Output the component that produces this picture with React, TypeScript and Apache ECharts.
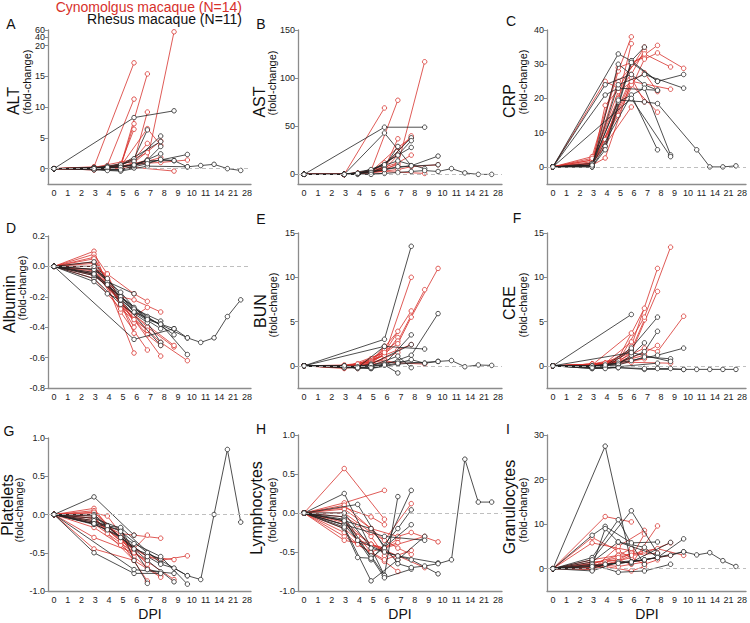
import React, { useEffect, useRef } from "react";
import * as echarts from "echarts";

// ---------- axis categories ----------
const DAY_LABELS = [0, 1, 2, 3, 4, 5, 6, 7, 8, 9, 10, 11, 14, 21, 28];
const LABEL_SPREAD = 0.968; // tick labels sit slightly wider apart than the sample positions

// ---------- sampling schedules (DPI) ----------
const CYNO_DAYS = [
  [0, 3, 6], [0, 3, 4, 6], [0, 3, 5, 6], [0, 3, 4, 5, 6], [0, 3, 5, 7], [0, 3, 4, 6, 7], [0, 3, 5, 7, 8],
  [0, 3, 6, 7], [0, 3, 4, 5, 7], [0, 3, 5, 6, 8], [0, 3, 4, 6, 8], [0, 3, 5, 7, 9], [0, 3, 6, 9], [0, 3, 5, 7, 8, 10],
];
const RHESUS_DAYS = [
  [0, 3, 4, 6], [0, 3, 5, 6, 7], [0, 3, 4, 6, 8], [0, 3, 5, 7, 8], [0, 3, 4, 5, 8], [0, 3, 6, 8],
  [0, 3, 5, 7, 9], [0, 6, 9], [0, 3, 4, 6, 8, 10], [0, 3, 5, 7, 10], [0, 3, 5, 7, 8, 9, 10, 11, 14, 21, 28],
];

type V = (number | null)[];

// ---------- A: ALT ----------
const ALT_CYNO: V[] = [
  [0, 0.3, 17.2], [0, 0.1, 0.5, 11.3], [0, -0.2, 0.3, 7.3], [0, 0, 0.2, 0.8, 6.4], [0, 0.2, 0.5, 15.4],
  [0, 0.1, 0.3, 1.2, 9.2], [0, 0, 0.4, 6.5, 3.8], [0, 0.2, 1.5, 4.1], [0, -0.1, 0.2, 0.6, 2.6],
  [0, 0.1, 0.3, 1.0, 4.5], [0, 0, 0.2, 0.6, 1.8], [0, 0.1, 0.2, 1.4, 55], [0, -0.2, 0.2, -0.4], [0, 0, 0.3, 0.9, 1.0, 1.4],
];
const ALT_RHESUS: V[] = [
  [0, 0, -0.3, 0.1], [0, 0.1, 0.5, 1.6, 6.3], [0, 0.2, 0.4, 1.2, 5.3], [0, 0, -0.3, 1.4, 3.6], [0, 0.1, 0.3, 0.6, 4.4],
  [0, -0.1, 0.5, 2.4], [0, 0, 0.2, 1.3, 1.3], [0, 8.3, 9.4], [0, 0.1, 0.2, 0.6, 1.4, 2.3], [0, -0.2, -0.4, 0.4, 0.3],
  [0, 0, -0.2, 0.8, 1.5, 1.3, 0.3, 0.5, 0.7, 0, -0.3],
];
const ALT_TICKS = [0, 5, 10, 15, 20, 40, 60];

// ---------- B: AST ----------
const AST_CYNO: V[] = [
  [0, 0, 69], [0, 0, 1, 8], [0, 0, 3, 12], [0, 0, 1, 3, 6], [0, 0, 4, 77], [0, 0, 1, 6, 37], [0, 0, 3, 28, 38],
  [0, 0, 5, 20], [0, 0, 1, 3, 12], [0, 0, 2, 8, 40], [0, 0, 1, 4, 20], [0, 0, 2, 10, 117], [0, 0, 3, 1], [0, 0, 2, 5, 8, 10],
];
const AST_RHESUS: V[] = [
  [0, 0, 0, 1], [0, 0, 2, 8, 29], [0, 0, 1, 10, 38], [0, 0, 3, 20, 35], [0, 0, 1, 4, 28], [0, 0, 43, 9],
  [0, 0, 5, 14, 6], [0, 49, 49], [0, 0, 1, 5, 9, 19], [0, 0, 2, 8, 10], [0, 0, 0, 2, 3, 4, 3, 6, 1.5, 0, 0],
];
const AST_TICKS = [0, 50, 100, 150];

// ---------- C: CRP ----------
const CRP_CYNO: V[] = [
  [0, 1, 17.5], [0, 0.5, 2.6, 25], [0, 2, 28, 38], [0, 1, 6, 20, 36], [0, 3, 29, 32], [0, 0.5, 18, 27, 34],
  [0, 1.5, 22, 27.5, 22], [0, 0.3, 26, 19], [0, null, 25, 23, 35], [0, 2, 20, 30, 35.5], [0, 1, 8, 24, 16],
  [0, 1, 25, 33, 29.2], [0, 0.5, 25, 22.7], [0, 2.5, 15, 31.5, 33.3, 28.8],
];
const CRP_RHESUS: V[] = [
  [0, null, 24, 27], [0, null, 33, 31, 35], [0, 0, 6, 31, 25], [0, 0, 30, 24, 22.4], [0, null, 21, 23, 22.4],
  [0, 0.5, 21, 5], [0, 1, 19, 23, 3.5], [0, 20, 3], [0, 0, 5, 30.5, 25, 27], [0, 0.5, 24, 27, 23],
  [0, 0.5, 19.5, 19, 18.5, null, null, 5, 0, 0, 0.3],
];
const CRP_TICKS = [0, 10, 20, 30, 40];

// ---------- D: Albumin ----------
const ALB_CYNO: V[] = [
  [0, 0.1, -0.57], [0, 0.08, -0.05, -0.44], [0, 0.06, -0.25, -0.4], [0, 0.03, -0.08, -0.22, -0.37], [0, 0, -0.3, -0.55],
  [0, -0.02, -0.05, -0.18, -0.23], [0, 0.02, -0.25, -0.45, -0.52], [0, -0.04, -0.33, -0.27], [0, 0.05, -0.1, -0.26, -0.42],
  [0, -0.06, -0.2, -0.22, -0.3], [0, -0.03, -0.12, -0.35, -0.59], [0, 0, -0.24, -0.4, -0.53], [0, -0.05, -0.32, -0.52],
  [0, -0.08, -0.28, -0.42, -0.5, -0.62],
];
const ALB_RHESUS: V[] = [
  [0, 0.03, -0.1, -0.18], [0, -0.02, -0.17, -0.27, -0.35], [0, -0.05, -0.12, -0.3, -0.41], [0, -0.08, -0.25, -0.37, -0.5],
  [0, -0.1, -0.18, -0.22, -0.52], [0, -0.04, -0.28, -0.36], [0, -0.06, -0.2, -0.33, -0.45], [0, -0.48, -0.41],
  [0, -0.02, -0.08, -0.3, -0.38, -0.58], [0, 0, -0.2, -0.34, -0.47],
  [0, -0.05, -0.22, -0.35, -0.38, -0.41, -0.47, -0.5, -0.47, -0.33, -0.22],
];
const ALB_TICKS = [-0.8, -0.6, -0.4, -0.2, 0, 0.2];

// ---------- E: BUN ----------
const BUN_CYNO: V[] = [
  [0, -0.2, 1.5], [0, 0, -0.3, 0.8], [0, -0.1, 0.5, 2.2], [0, 0, 0.1, 0.8, 1.8], [0, -0.2, 0.3, 3.9],
  [0, 0, 0.2, 1.2, 3.2], [0, -0.1, 0.6, 1.8, 2.4], [0, 0.1, 0.6, 0.3], [0, -0.3, -0.1, 0.3, 1.5],
  [0, 0, 0.5, 1.2, 10], [0, -0.1, 0.2, 1.5, 6.2], [0, 0, 0.4, 2.8, 8.6], [0, -0.2, 0.4, 0.2], [0, -0.1, 0.3, 2.5, 5.5, 11],
];
const BUN_RHESUS: V[] = [
  [0, -0.1, -0.2, 2.2], [0, -0.1, -0.3, 0.1, -0.8], [0, 0, -0.3, 0.2, 3.5], [0, -0.1, 0, 1.1, -0.2],
  [0, -0.2, -0.1, 0.2, 2.4], [0, null, 3.0, 13.5], [0, -0.1, 0.1, 0.5, 0.3], [0, 2.2, 1.9],
  [0, 0, -0.2, 0.1, 1.2, 5.9], [0, -0.2, -0.3, 0.2, 0.5], [0, 0, -0.2, 0.3, 0.7, 0.3, 0.5, 0.6, -0.1, 0.1, 0.05],
];
const BUN_TICKS = [0, 5, 10, 15];

// ---------- F: CRE ----------
const CRE_CYNO: V[] = [
  [0, 0.1, 3.7], [0, 0.2, 0.3, 2.7], [0, 0, 0.5, 1.5], [0, 0.1, 0.2, 0.5, 1.0], [0, 0.2, 0.8, 6.5],
  [0, 0.1, 0.3, 1.8, 5.2], [0, 0, 0.4, 1.5, 2.3], [0, 0.2, 0.5, 0.8], [0, 0.1, 0.2, 0.4, 1.2],
  [0, 0.1, 0.6, 2.2, 11], [0, 0.2, 0.3, 1.5, 8.4], [0, 0.1, 0.5, 5.5, 13.4], [0, 0, 0.4, 0.3], [0, 0.2, 0.6, 2.0, 1.6, 5.6],
];
const CRE_RHESUS: V[] = [
  [0, -0.3, -0.2, 1.8], [0, 0, 0.2, 1.2, 2.6], [0, -0.1, 0, 2.0, 5.5], [0, 0, 0.3, 1.6, 3.9], [0, -0.2, -0.3, -0.1, 0.3],
  [0, null, 5.8, null], [0, -0.1, 0.1, 1.0, 0.8], [0, 1.5, 0.5], [0, 0, 0.1, 0.6, 1.2, 2.0], [0, -0.3, -0.2, -0.4, -0.4],
  [0, -0.2, -0.2, -0.3, -0.3, -0.3, -0.4, -0.4, -0.4, -0.4, -0.4],
];
const CRE_TICKS = [0, 5, 10, 15];

// ---------- G: Platelets ----------
const PLT_CYNO: V[] = [
  [0, -0.45, -0.6], [0, 0.08, -0.15, -0.5], [0, 0.05, -0.3, -0.55], [0, 0.02, -0.02, -0.25, -0.45], [0, -0.05, -0.35, -0.87],
  [0, -0.1, -0.2, -0.45, -0.27], [0, -0.17, -0.4, -0.7, -0.8], [0, -0.3, -0.5, -0.6], [0, 0, -0.15, -0.3, -0.65],
  [0, -0.08, -0.25, -0.27, -0.31], [0, -0.02, -0.25, -0.6, -0.82], [0, 0.03, -0.3, -0.55, -0.59], [0, -0.12, -0.5, -0.85],
  [0, -0.05, -0.35, -0.55, -0.6, -0.54],
];
const PLT_RHESUS: V[] = [
  [0, 0.23, null, -0.27], [0, -0.05, -0.18, -0.6, -0.9], [0, -0.1, -0.15, -0.45, -0.58], [0, -0.12, -0.2, -0.72, -0.75],
  [0, 0, -0.15, -0.17, -0.64], [0, -0.5, -0.77, -0.77], [0, -0.02, -0.3, -0.6, -0.88], [0, -0.72, -0.77],
  [0, -0.13, -0.2, -0.38, -0.55, -0.91], [0, -0.08, -0.22, -0.5, -0.8],
  [0, -0.12, -0.3, -0.55, -0.65, -0.7, -0.8, -0.85, 0, 0.85, -0.1],
];
const PLT_TICKS = [-1, -0.5, 0, 0.5, 1];

// ---------- H: Lymphocytes ----------
const LYM_CYNO: V[] = [
  [0, 0.57, -0.08], [0, 0.13, null, 0.29], [0, 0.07, -0.05, -0.15], [0, -0.05, -0.15, -0.3, -0.55], [0, -0.1, -0.4, -0.6],
  [0, -0.2, -0.35, -0.45, -0.33], [0, 0, -0.25, -0.45, -0.53], [0, -0.3, -0.62, -0.75], [0, -0.12, -0.3, -0.5, -0.38],
  [0, 0.05, -0.2, -0.35, 0.12], [0, -0.25, -0.4, -0.6, -0.48], [0, -0.15, -0.4, -0.55, -0.7], [0, -0.35, -0.45, -0.3],
  [0, 0.1, -0.2, -0.3, -0.25, -0.37],
];
const LYM_RHESUS: V[] = [
  [0, 0.25, null, -0.8], [0, -0.15, -0.55, -0.8, 0.21], [0, null, 0.11, -0.45, 0.29], [0, -0.1, -0.6, -0.2, 0.04],
  [0, -0.2, -0.57, -0.58, -0.15], [0, -0.05, -0.83, -0.72], [0, -0.18, -0.87, -0.6, -0.3], [0, -0.3, -0.35],
  [0, -0.08, -0.35, -0.5, -0.6, -0.78], [0, 0, -0.45, -0.55, -0.64],
  [0, -0.1, -0.2, -0.65, -0.7, -0.68, -0.65, -0.6, 0.69, 0.14, 0.14],
];
const LYM_TICKS = [-1, -0.5, 0, 0.5, 1];

// ---------- I: Granulocytes ----------
const GRA_CYNO: V[] = [
  [0, 5.8, 4], [0, null, 11.7, 10.5], [0, 1, 3, 4.5], [0, 0.5, 1.5, 2, 3.5], [0, -0.2, 5, 8.6], [0, 0.3, 1, 2.5, 7.8],
  [0, 7, 4, 1, 2], [0, 1, -0.5, 0.5], [0, 0.2, 0.8, 0.5, 1.5], [0, 1.5, 2, 1, 9.6], [0, 0, 0.5, 3, 3.5],
  [0, 2, 3, 3.5, 5.8], [0, 0.8, 1.5, 3], [0, 1.2, 2.5, 4, 4.5, 3],
];
const GRA_RHESUS: V[] = [
  [0, null, 27.5, 1.2], [0, 2.5, 11, 5.5, 1], [0, 7.5, 9.5, 5.8, 6], [0, 1.5, 6, 4.8, 2.5], [0, 0.5, 9, 6, 3],
  [0, 2, 13, 3.5], [0, 1, -0.8, -0.5, 1.0], [0, 1.5, 5.9], [0, 0, 1, 1.5, 2.5, 6.7], [0, -0.5, 1.5, 2, 3.8],
  [0, 0.5, 1.2, 2, 2.5, 3, 3.8, 3.1, 3.6, 1.8, 0.5],
];
const GRA_TICKS = [0, 10, 20, 30];

// broken y scale of panel A (0-20 linear, 20-60 compressed)
const brk = (v: number) => (v <= 20 ? v : v <= 40 ? 20 + (v - 20) * 0.068 : 21.36 + (v - 40) * 0.059);
const ident = (v: number) => v;

const PANELS = [
  { letter: "A", name: "ALT", cyno: ALT_CYNO, rhesus: ALT_RHESUS, ticks: ALT_TICKS, min: -2.5, max: 60, dec: 0, f: brk, split: [40] },
  { letter: "B", name: "AST", cyno: AST_CYNO, rhesus: AST_RHESUS, ticks: AST_TICKS, min: -10, max: 150, dec: 0, f: ident, split: [] },
  { letter: "C", name: "CRP", cyno: CRP_CYNO, rhesus: CRP_RHESUS, ticks: CRP_TICKS, min: -5, max: 40, dec: 0, f: ident, split: [] },
  { letter: "D", name: "Albumin", cyno: ALB_CYNO, rhesus: ALB_RHESUS, ticks: ALB_TICKS, min: -0.8, max: 0.2, dec: 1, f: ident, split: [] },
  { letter: "E", name: "BUN", cyno: BUN_CYNO, rhesus: BUN_RHESUS, ticks: BUN_TICKS, min: -2.5, max: 15, dec: 0, f: ident, split: [] },
  { letter: "F", name: "CRE", cyno: CRE_CYNO, rhesus: CRE_RHESUS, ticks: CRE_TICKS, min: -2.5, max: 15, dec: 0, f: ident, split: [] },
  { letter: "G", name: "Platelets", cyno: PLT_CYNO, rhesus: PLT_RHESUS, ticks: PLT_TICKS, min: -1, max: 1, dec: 1, f: ident, split: [] },
  { letter: "H", name: "Lymphocytes", cyno: LYM_CYNO, rhesus: LYM_RHESUS, ticks: LYM_TICKS, min: -1, max: 1, dec: 1, f: ident, split: [] },
  { letter: "I", name: "Granulocytes", cyno: GRA_CYNO, rhesus: GRA_RHESUS, ticks: GRA_TICKS, min: -5, max: 30, dec: 0, f: ident, split: [] },
];

// ---------- layout ----------
const BOXES = [
  [48, 30, 203, 154], [298, 30, 204, 154], [547, 30, 202, 154],
  [48, 236, 203, 152], [298, 233, 204, 155], [547, 233, 202, 155],
  [48, 438, 203, 153], [298, 435, 204, 156], [547, 435, 202, 156],
];
const LETTER_POS = [[11, 24], [261, 24], [511, 21], [11, 228], [261, 219], [517, 218], [9, 431], [261, 429], [508, 429]];
const NAME_POS = [[13, 101], [259, 102], [509, 101], [9, 304], [260, 311], [509, 303], [7, 505], [256, 508], [509, 507]];
const FOLD_POS = [[27, 82], [272, 83], [523, 82], [22, 288], [273, 305], [523, 305], [19, 510], [272, 510], [523, 510]];
const DPI_POS = [[150, 614], [400, 614], [647, 614]];

const RED = "#d7312c";
const BLACK = "#222222";
const AXIS = "#8c8c8c";
const FONT = "Liberation Sans, Arial, Helvetica, sans-serif";

function points(days: number[], vals: V, f: (v: number) => number) {
  const out: number[][] = [];
  days.forEach((d, i) => {
    const v = vals[i];
    if (v !== null && v !== undefined) out.push([DAY_LABELS.indexOf(d), f(v)]);
  });
  return out;
}

function buildOption() {
  const grid: any[] = [];
  const xAxis: any[] = [];
  const yAxis: any[] = [];
  const series: any[] = [];
  const graphic: any[] = [];
  const xLabelPos = DAY_LABELS.map((_, k) => k / LABEL_SPREAD);
  const extraY: any[] = [];

  PANELS.forEach((p, i) => {
    const [l, t, w, h] = BOXES[i];
    grid.push({ left: l, top: t, width: w, height: h });
    xAxis.push({
      gridIndex: i, type: "value", min: -0.45, max: 14.77,
      axisLine: { show: true, onZero: false, lineStyle: { color: AXIS, width: 1.3 } },
      axisTick: { show: false }, splitLine: { show: false },
      axisLabel: {
        customValues: xLabelPos, fontSize: 9, margin: 4, color: "#222", fontFamily: FONT, hideOverlap: false,
        formatter: (v: number) => String(DAY_LABELS[Math.round(v * LABEL_SPREAD)]),
      },
    });
    const tickT = p.ticks.map(p.f);
    const labelTicks = p.ticks.filter((v) => p.split.indexOf(v) < 0);
    const labelT = labelTicks.map(p.f);
    const labelL = labelTicks.map((v) => v.toFixed(p.dec));
    const yMin = p.f(p.min);
    const yMax = p.f(p.max) + 1e-6;
    yAxis.push({
      gridIndex: i, type: "value", position: "left", min: yMin, max: yMax,
      axisLine: { show: true, onZero: false, lineStyle: { color: AXIS, width: 1.3 } },
      axisTick: { show: true, length: 3, customValues: tickT, lineStyle: { color: AXIS, width: 1 } },
      splitLine: { show: false },
      axisLabel: {
        customValues: labelT, fontSize: 9, margin: 3, color: "#222", fontFamily: FONT,
        hideOverlap: false, showMaxLabel: true, showMinLabel: true,
        formatter: (v: number) => {
          const k = labelT.findIndex((tv) => Math.abs(tv - v) < 1e-4);
          return k >= 0 ? labelL[k] : "";
        },
      },
    });
    // tick labels squeezed next to another one get their own (line-less) left axis so both stay visible
    p.split.forEach((sv) => {
      extraY.push({
        gridIndex: i, type: "value", position: "left", offset: 0, min: yMin, max: yMax,
        axisLine: { show: false, onZero: false }, axisTick: { show: false }, splitLine: { show: false },
        axisLabel: {
          customValues: [p.f(sv)], fontSize: 9, margin: 3, color: "#222", fontFamily: FONT,
          formatter: () => sv.toFixed(p.dec),
        },
      });
    });
    // zero reference line
    series.push({
      type: "line", xAxisIndex: i, yAxisIndex: i, data: [], silent: true,
      markLine: {
        silent: true, symbol: "none", label: { show: false },
        lineStyle: { color: "#b8b8b8", type: [4, 3], width: 0.9 },
        data: [{ yAxis: 0 }],
      },
    });
    const addGroup = (vals: V[], days: number[][], color: string, z: number) => {
      vals.forEach((v, k) => {
        series.push({
          type: "line", xAxisIndex: i, yAxisIndex: i, z,
          data: points(days[k], v, p.f),
          symbol: "circle", symbolSize: 4.5, showSymbol: true, silent: true,
          lineStyle: { color, width: 0.8 },
          itemStyle: { color: "#ffffff", borderColor: color, borderWidth: 0.8 },
          emphasis: { disabled: true },
        });
      });
    };
    addGroup(p.cyno, CYNO_DAYS, RED, 3);
    addGroup(p.rhesus, RHESUS_DAYS, BLACK, 4);

    graphic.push({
      type: "text", x: LETTER_POS[i][0], y: LETTER_POS[i][1],
      style: { text: p.letter, fontSize: 14, fontFamily: FONT, fill: "#111", align: "center", verticalAlign: "middle" },
    });
    graphic.push({
      type: "text", x: NAME_POS[i][0], y: NAME_POS[i][1], rotation: Math.PI / 2,
      style: { text: p.name, fontSize: 16, fontFamily: FONT, fill: "#111", align: "center", verticalAlign: "middle" },
    });
    graphic.push({
      type: "text", x: FOLD_POS[i][0], y: FOLD_POS[i][1], rotation: Math.PI / 2,
      style: { text: "(fold-change)", fontSize: 11, fontFamily: FONT, fill: "#111", align: "center", verticalAlign: "middle" },
    });
  });

  DPI_POS.forEach(([x, y]) => {
    graphic.push({
      type: "text", x, y,
      style: { text: "DPI", fontSize: 14, fontFamily: FONT, fill: "#111", align: "center", verticalAlign: "middle" },
    });
  });
  graphic.push({
    type: "text", x: 242, y: 7,
    style: { text: "Cynomolgus macaque (N=14)", fontSize: 14, fontFamily: FONT, fill: RED, align: "right", verticalAlign: "middle" },
  });
  graphic.push({
    type: "text", x: 242, y: 19,
    style: { text: "Rhesus macaque (N=11)", fontSize: 14, fontFamily: FONT, fill: "#111", align: "right", verticalAlign: "middle" },
  });

  return { animation: false, backgroundColor: "#ffffff", grid, xAxis, yAxis: yAxis.concat(extraY), series, graphic };
}

export default function App() {
  const ref = useRef<HTMLDivElement>(null);
  useEffect(() => {
    if (!ref.current) return;
    const chart = echarts.init(ref.current, undefined, { renderer: "svg" });
    chart.setOption(buildOption() as any);
    return () => chart.dispose();
  }, []);
  return <div ref={ref} style={{ position: "absolute", left: 0, top: 0, width: 750, height: 623, background: "#fff" }} />;
}
